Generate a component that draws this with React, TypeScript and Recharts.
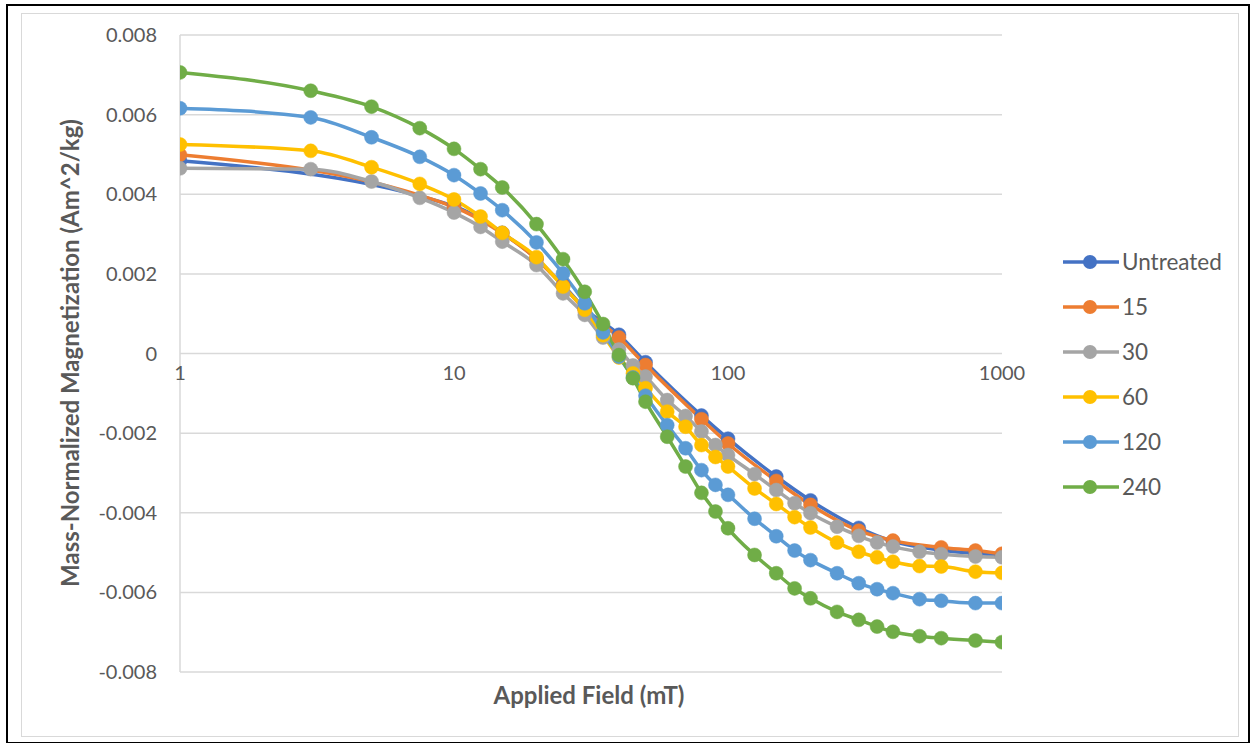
import React from 'react';
import { LineChart, Line, XAxis, YAxis, CartesianGrid } from 'recharts';

// applied field (mT) where each series was measured
const fieldsSparse = [1, 10, 15, 20, 25, 30, 40, 50, 80, 100, 150, 200, 300, 400, 600, 800, 1000];
const fieldsDense = [
    1, 3, 5, 7.5, 10, 12.5, 15, 20, 25, 30, 35, 40, 45, 50, 60, 70, 80, 90, 100,
    125, 150, 175, 200, 250, 300, 350, 400, 500, 600, 800, 1000,
];

const untreated = [
    0.00484, 0.0037, 0.00303, 0.00238, 0.00172, 0.00113, 0.00047, -0.00022, -0.00156, -0.00214,
    -0.00309, -0.00369, -0.00438, -0.00472, -0.00494, -0.00502, -0.00508,
];
const min15 = [
    0.00499, 0.00368, 0.00302, 0.00237, 0.0017, 0.0011, 0.0004, -0.00029, -0.00165, -0.00226,
    -0.0032, -0.0038, -0.00445, -0.0047, -0.00487, -0.00495, -0.00503,
];
const min30 = [
    0.00465, 0.00463, 0.00432, 0.00391, 0.00354, 0.00318, 0.00281, 0.00222, 0.00151, 0.00097,
    0.0004, 0.0001, -0.0003, -0.00058, -0.00117, -0.00157, -0.00196, -0.0023, -0.00255,
    -0.00303, -0.00343, -0.00376, -0.00401, -0.00435, -0.00458, -0.00475, -0.00485, -0.00498,
    -0.00504, -0.0051, -0.00512,
];
const min60 = [
    0.00525, 0.00509, 0.00468, 0.00426, 0.00387, 0.00344, 0.00303, 0.00242, 0.00168, 0.0011,
    0.00046, -0.0001, -0.0005, -0.00087, -0.00146, -0.00184, -0.0023, -0.0026, -0.00284,
    -0.00339, -0.00378, -0.00411, -0.00437, -0.00475, -0.00498, -0.00512, -0.00523, -0.00534,
    -0.00535, -0.00548, -0.00551,
];
const min120 = [
    0.00616, 0.00593, 0.00543, 0.00494, 0.00448, 0.00402, 0.0036, 0.00279, 0.00201, 0.00126,
    0.00053, -0.00008, -0.0006, -0.00106, -0.0018, -0.00238, -0.00293, -0.0033, -0.00355,
    -0.00415, -0.00459, -0.00495, -0.00519, -0.00552, -0.00577, -0.00592, -0.00602, -0.00617,
    -0.00621, -0.00627, -0.00627,
];
const min240 = [
    0.00706, 0.0066, 0.0062, 0.00566, 0.00514, 0.00463, 0.00417, 0.00325, 0.00237, 0.00155,
    0.00074, -0.00004, -0.00062, -0.00121, -0.00209, -0.00284, -0.0035, -0.00397, -0.00439,
    -0.00506, -0.00552, -0.0059, -0.00615, -0.00649, -0.00669, -0.00686, -0.00699, -0.0071,
    -0.00715, -0.00721, -0.00725,
];

const xTicks = [1, 10, 100, 1000];
const yTicks = [-0.008, -0.006, -0.004, -0.002, 0, 0.002, 0.004, 0.006, 0.008];

const toPoints = (xs: number[], ys: number[]) => xs.map((x, i) => ({ x, y: ys[i] }));

const series = [
    { name: 'Untreated', color: '#4472C4', data: toPoints(fieldsSparse, untreated) },
    { name: '15', color: '#ED7D31', data: toPoints(fieldsSparse, min15) },
    { name: '30', color: '#A5A5A5', data: toPoints(fieldsDense, min30) },
    { name: '60', color: '#FFC000', data: toPoints(fieldsDense, min60) },
    { name: '120', color: '#5B9BD5', data: toPoints(fieldsDense, min120) },
    { name: '240', color: '#70AD47', data: toPoints(fieldsDense, min240) },
];

const FONT = 'Lato, "Open Sans", sans-serif';
const TEXT = '#595959';
const ZERO_Y = 353.5;

const XTick = ({ x, payload }: any) => (
    <text x={x} y={ZERO_Y + 10} textAnchor="middle" dominantBaseline="hanging" fontSize={20} fill={TEXT} fontFamily={FONT}>
        {payload.value}
    </text>
);

// legend drawn beside the plot, like Excel's right-hand legend
const ChartLegend = () => (
    <div style={{ position: 'absolute', left: 1063, top: 239, fontFamily: FONT }}>
        {series.map((s) => (
            <div key={s.name} style={{ display: 'flex', alignItems: 'center', height: 45 }}>
                <svg width={56} height={16}>
                    <line x1={0} y1={8} x2={56} y2={8} stroke={s.color} strokeWidth={3.5} />
                    <circle cx={27} cy={8} r={7} fill={s.color} />
                </svg>
                <span style={{ marginLeft: 3, fontSize: 22.5, color: TEXT }}>{s.name}</span>
            </div>
        ))}
    </div>
);

const App: React.FC = () => {
    return (
        <div style={{ position: 'absolute', left: 0, top: 0, width: 1254, height: 743, background: '#fff' }}>
            <div style={{ position: 'absolute', left: 6, top: 4, width: 1244, height: 740, border: '2px solid #000', boxSizing: 'border-box' }} />
            <div style={{ position: 'absolute', left: 21, top: 13, width: 1218, height: 724, border: '1px solid #d9d9d9', boxSizing: 'border-box' }} />
            <div style={{ position: 'absolute', left: 0, top: 0 }}>
                <LineChart width={1254} height={743} margin={{ top: 35, right: 252, bottom: 0, left: 0 }}>
                    <CartesianGrid vertical={false} stroke="#d9d9d9" strokeWidth={1.5} />
                    <XAxis
                        dataKey="x"
                        type="number"
                        scale="log"
                        domain={[1, 1000]}
                        ticks={xTicks}
                        allowDataOverflow
                        height={71}
                        axisLine={false}
                        tickLine={false}
                        tick={<XTick />}
                        label={{
                            content: () => (
                                <text x={589} y={704} textAnchor="middle" fontSize={24} fontWeight="bold" fill={TEXT} fontFamily={FONT}>
                                    Applied Field (mT)
                                </text>
                            ),
                        }}
                    />
                    <YAxis
                        type="number"
                        domain={[-0.008, 0.008]}
                        ticks={yTicks}
                        width={180}
                        axisLine={{ stroke: '#d9d9d9', strokeWidth: 1.5 }}
                        tickLine={false}
                        tickSize={0}
                        tickMargin={23}
                        tick={{ fontSize: 20, fill: TEXT, fontFamily: FONT }}
                        tickFormatter={(v: number) => (v === 0 ? '0' : v.toFixed(3))}
                        label={{
                            content: () => (
                                <text
                                    x={73}
                                    y={353}
                                    transform="rotate(-90 73 353)"
                                    textAnchor="middle"
                                    dominantBaseline="middle"
                                    fontSize={24}
                                    fontWeight="bold"
                                    fill={TEXT}
                                    fontFamily={FONT}
                                >
                                    Mass-Normalized Magnetization (Am^2/kg)
                                </text>
                            ),
                        }}
                    />
                    {series.map((s) => (
                        <Line
                            key={s.name}
                            data={s.data}
                            dataKey="y"
                            name={s.name}
                            type="monotone"
                            stroke={s.color}
                            strokeWidth={3.5}
                            dot={{ r: 7, fill: s.color, stroke: s.color, strokeWidth: 0.5 }}
                            activeDot={false}
                            isAnimationActive={false}
                        />
                    ))}
                </LineChart>
            </div>
            <ChartLegend />
        </div>
    );
};

export default App;
